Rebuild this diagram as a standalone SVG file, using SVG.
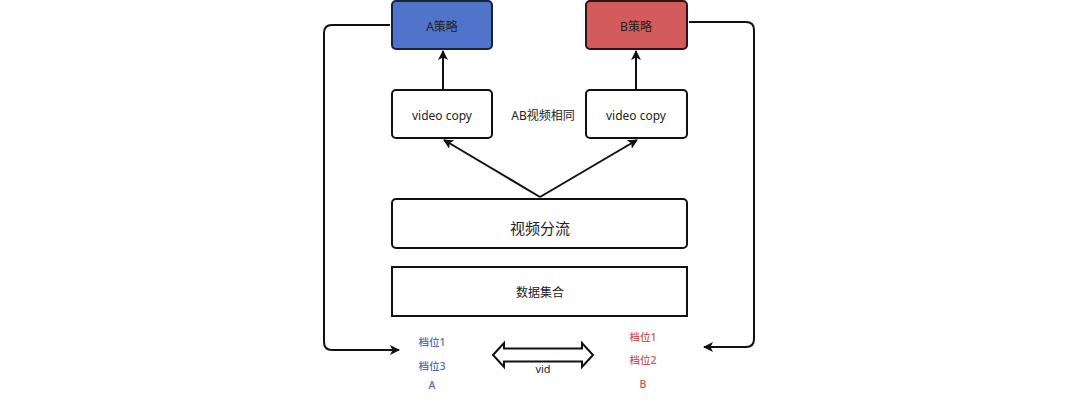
<svg xmlns="http://www.w3.org/2000/svg" width="1080" height="402" viewBox="0 0 1080 402">
<defs>
<marker id="ah" markerWidth="10" markerHeight="10" refX="9" refY="5" orient="auto" markerUnits="userSpaceOnUse" viewBox="0 0 10 10">
<path d="M0,0 L10,5 L0,10 L2.5,5 Z" fill="#111"/>
</marker>
<style>
.box{fill:#fff;stroke:#111;stroke-width:2}
.t{font-family:"Noto Sans","Noto Sans CJK SC",sans-serif;font-size:12px;fill:#222;text-anchor:middle;dominant-baseline:central}
.ln{fill:none;stroke:#111;stroke-width:2}
.blue{fill:#4a6db8;font-size:10.5px;font-weight:500}
.red{fill:#cf5454;font-size:10.5px;font-weight:500}
</style>
</defs>
<rect width="1080" height="402" fill="#fff"/>
<g id="nodeA"><rect x="392" y="1" width="100" height="48" rx="4" fill="#4f74c9" stroke="#1a2238" stroke-width="2"/><text class="t" x="442" y="26">A策略</text></g>
<g id="nodeB"><rect x="586" y="1" width="101" height="48" rx="4" fill="#d45b5b" stroke="#2a1414" stroke-width="2"/><text class="t" x="636" y="26">B策略</text></g>
<g id="copyA"><rect class="box" x="392" y="90" width="100" height="48" rx="4"/><text class="t" x="442" y="115">video copy</text></g>
<g id="copyB"><rect class="box" x="586" y="90" width="101" height="48" rx="4"/><text class="t" x="636" y="115">video copy</text></g>
<g id="same"><text class="t" x="543" y="115">AB视频相同</text></g>
<g id="split"><rect class="box" x="392" y="199" width="295" height="49" rx="4"/><text class="t" x="540" y="228" style="font-size:15px">视频分流</text></g>
<g id="data"><rect class="box" x="392" y="267" width="295" height="49"/><text class="t" x="540" y="292">数据集合</text></g>
<g id="labelsA">
<text class="t blue" x="432" y="342">档位1</text>
<text class="t blue" x="432" y="366">档位3</text>
<text class="t blue" x="432" y="385">A</text>
</g>
<g id="labelsB">
<text class="t red" x="643" y="337">档位1</text>
<text class="t red" x="643" y="360">档位2</text>
<text class="t red" x="643" y="384">B</text>
</g>
<g id="vid">
<path d="M493,355 L504,343 L504,348.5 L582,348.5 L582,343 L593,355 L582,367 L582,361.5 L504,361.5 L504,367 Z" fill="#fff" stroke="#111" stroke-width="2"/>
<text class="t" x="543" y="368" style="font-size:11px">vid</text>
</g>
<g id="connectors">
<line class="ln" x1="443" y1="89" x2="443" y2="51" marker-end="url(#ah)"/>
<line class="ln" x1="636" y1="89" x2="636" y2="51" marker-end="url(#ah)"/>
<line class="ln" x1="540" y1="197" x2="444" y2="140" marker-end="url(#ah)"/>
<line class="ln" x1="540" y1="197" x2="637" y2="140" marker-end="url(#ah)"/>
<path class="ln" d="M390,25 L332,25 Q324,25 324,33 L324,342 Q324,350 332,350 L399,350" marker-end="url(#ah)"/>
<path class="ln" d="M689,22 L746,22 Q754,22 754,30 L754,339 Q754,347 746,347 L704,347" marker-end="url(#ah)"/>
</g>
</svg>
